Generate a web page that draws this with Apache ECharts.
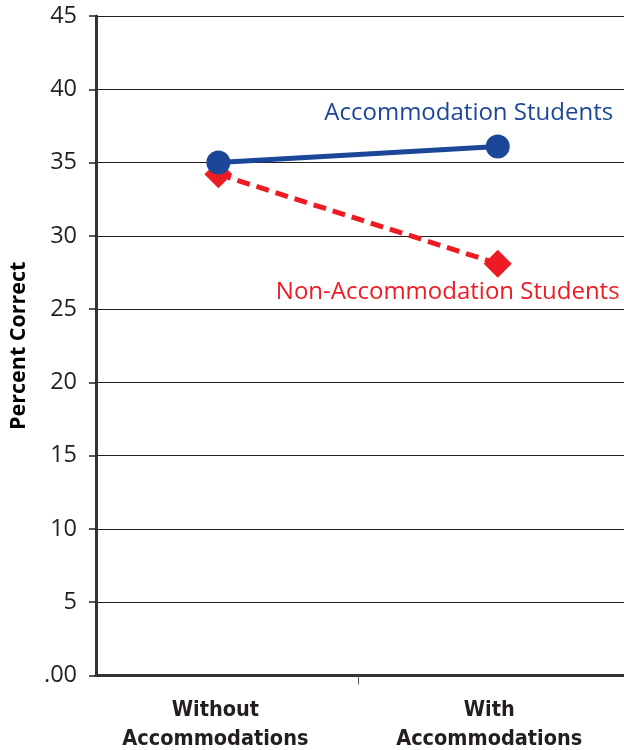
<!DOCTYPE html>
<html>
<head>
<meta charset="utf-8">
<script src="https://cdn.jsdelivr.net/npm/echarts@6/dist/echarts.min.js"></script>
<style>
  html, body { margin: 0; padding: 0; background: #fff; }
  #main { width: 624px; height: 750px; }
</style>
</head>
<body>
<div id="main"></div>
<script>
// data
var categories = ['Without\nAccommodations', 'With\nAccommodations'];
var accomStudents = [35.0, 36.1];
var nonAccomStudents = [34.2, 28.1];
var yTicks = [0, 5, 10, 15, 20, 25, 30, 35, 40, 45];

var blue = '#1c4798';
var red = '#ed1c24';
var ink = '#231f20';
var condensed = "'DejaVu Sans Condensed', 'Liberation Sans Narrow', sans-serif";

function toPoints(values, labelText, labelOpts) {
    return values.map(function(v, i) {
        var item = { value: [i + 1, v] };
        if (i === values.length - 1) {
            item.label = Object.assign({ show: true, formatter: labelText }, labelOpts);
        }
        return item;
    });
}

var myChart = echarts.init(document.getElementById('main'));

var option = {
    animation: false,
    backgroundColor: '#fff',
    grid: {
        left: 96,
        right: 0,
        top: 16,
        bottom: 74
    },
    xAxis: {
        type: 'value',
        min: 0.562,
        max: 2.452,
        axisLine: { lineStyle: { color: '#333', width: 3 } },
        splitLine: { show: false },
        axisTick: {
            show: true,
            customValues: [1.5],
            length: 9,
            lineStyle: { color: '#555', width: 1 }
        },
        axisLabel: {
            customValues: [1, 2],
            margin: 20,
            formatter: function(v) {
                var c = categories[Math.round(v) - 1];
                var tag = v < 1.5 ? 'l' : 'r';
                return c.split('\n').map(function(s) { return '{' + tag + '|' + s + '}'; }).join('\n');
            },
            rich: {
                l: {
                    fontFamily: condensed,
                    fontWeight: 'bold', fontSize: 21.5, lineHeight: 29, color: ink,
                    padding: [0, 6, 0, 0]
                },
                r: {
                    fontFamily: condensed,
                    fontWeight: 'bold', fontSize: 21.5, lineHeight: 29, color: ink,
                    padding: [0, 17, 0, 0]
                }
            }
        }
    },
    yAxis: {
        type: 'value',
        min: yTicks[0],
        max: yTicks[yTicks.length - 1],
        interval: 5,
        name: 'Percent Correct',
        nameLocation: 'middle',
        nameGap: 66,
        nameRotate: 90,
        nameTextStyle: {
            fontFamily: "'Open Sans', sans-serif",
            fontWeight: 'bold',
            fontSize: 21.5,
            color: '#000'
        },
        axisLine: { show: true, lineStyle: { color: '#333', width: 3 } },
        axisTick: { show: true, length: 7, lineStyle: { color: ink, width: 1.5 } },
        axisLabel: {
            margin: 19,
            fontFamily: "'Open Sans', sans-serif",
            fontSize: 23.5,
            color: ink,
            formatter: function(v) { return v === 0 ? '.00' : String(v); }
        },
        splitLine: { show: true, lineStyle: { color: ink, width: 1.2 } }
    },
    series: [{
        name: 'Non-Accommodation Students',
        type: 'line',
        symbol: 'diamond',
        symbolSize: 28,
        itemStyle: { color: red },
        lineStyle: { color: red, width: 5, type: [13, 7] },
        label: { show: false },
        data: toPoints(nonAccomStudents, 'Non-Accommodation Students', {
            position: 'bottom',
            distance: 2,
            offset: [-50, 0],
            fontFamily: "'Open Sans', sans-serif",
            fontSize: 24,
            color: red
        })
    }, {
        name: 'Accommodation Students',
        type: 'line',
        symbol: 'circle',
        symbolSize: 24,
        z: 3,
        itemStyle: { color: blue },
        lineStyle: { color: blue, width: 5 },
        label: { show: false },
        data: toPoints(accomStudents, 'Accommodation Students', {
            position: 'top',
            distance: 9,
            offset: [-29, 0],
            fontFamily: "'Open Sans', sans-serif",
            fontSize: 24,
            color: blue
        })
    }]
};

myChart.setOption(option);
</script>
</body>
</html>
